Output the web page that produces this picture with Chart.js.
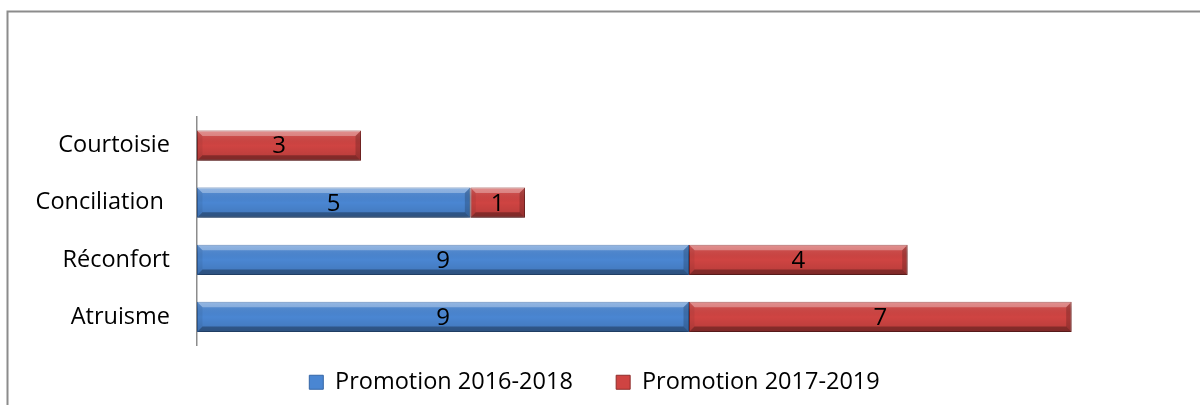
<!DOCTYPE html>
<html>
<head>
<meta charset="utf-8">
<script src="https://cdn.jsdelivr.net/npm/chart.js@4"></script>
<style>
  html, body { margin: 0; padding: 0; background: #fff; }
  #wrap { width: 1200px; height: 405px; }
</style>
</head>
<body>
<div id="wrap"><canvas id="chart"></canvas></div>
<script>
const categories = ['Courtoisie', 'Conciliation ', 'Réconfort', 'Atruisme'];
const promo2016 = [null, 5, 9, 9];
const promo2017 = [3, 1, 4, 7];
const seriesNames = ['Promotion 2016-2018', 'Promotion 2017-2019'];

const FONT = '"Open Sans", sans-serif';

// grey frame along the top and left edge
const frame = {
    id: 'frame',
    beforeDraw(chart) {
        const ctx = chart.ctx;
        ctx.save();
        ctx.fillStyle = '#fff';
        ctx.fillRect(0, 0, chart.width, chart.height);
        ctx.strokeStyle = '#8c8c8c';
        ctx.lineWidth = 2;
        ctx.beginPath();
        ctx.moveTo(7.5, chart.height);
        ctx.lineTo(7.5, 11.5);
        ctx.lineTo(chart.width, 11.5);
        ctx.stroke();
        ctx.restore();
    }
};

function poly(ctx, pts, fill) {
    ctx.fillStyle = fill;
    ctx.beginPath();
    ctx.moveTo(pts[0][0], pts[0][1]);
    for (let k = 1; k < pts.length; k++) ctx.lineTo(pts[k][0], pts[k][1]);
    ctx.closePath();
    ctx.fill();
}

// drop shadow under bars, then bevel shading and value labels on top
const bevel = {
    id: 'bevel',
    beforeDatasetsDraw(chart) {
        const ctx = chart.ctx;
        ctx.save();
        ctx.shadowColor = 'rgba(0,0,0,0.28)';
        ctx.shadowBlur = 6;
        ctx.shadowOffsetY = 4;
    },
    afterDatasetsDraw(chart) {
        const ctx = chart.ctx;
        ctx.restore();
        chart.data.datasets.forEach((ds, i) => {
            const meta = chart.getDatasetMeta(i);
            meta.data.forEach((bar, j) => {
                const v = ds.data[j];
                if (v == null) return;
                const p = bar.getProps(['x', 'y', 'base', 'height'], true);
                const l = Math.min(p.x, p.base) + 0.5, r = Math.max(p.x, p.base) - 0.5;
                const t = p.y - p.height / 2 + 0.5, btm = p.y + p.height / 2 - 0.5;
                const b = Math.min(5, (r - l) / 2);
                ctx.save();
                const g = ctx.createLinearGradient(0, t, 0, btm);
                g.addColorStop(0, 'rgba(255,255,255,0.15)');
                g.addColorStop(0.5, 'rgba(0,0,0,0)');
                g.addColorStop(1, 'rgba(0,0,0,0.12)');
                ctx.fillStyle = g;
                ctx.fillRect(l, t, r - l, btm - t);
                poly(ctx, [[l, t], [r, t], [r - b, t + b], [l + b, t + b]], 'rgba(255,255,255,0.3)');
                poly(ctx, [[l, btm], [r, btm], [r - b, btm - b], [l + b, btm - b]], 'rgba(0,0,0,0.3)');
                poly(ctx, [[r, t], [r, btm], [r - b, btm - b], [r - b, t + b]], 'rgba(0,0,0,0.18)');
                poly(ctx, [[l, t], [l, btm], [l + b, btm - b], [l + b, t + b]], 'rgba(0,0,0,0.06)');
                ctx.restore();

                ctx.save();
                ctx.fillStyle = '#000';
                ctx.font = '24px ' + FONT;
                ctx.textAlign = 'center';
                ctx.textBaseline = 'middle';
                ctx.fillText(String(v), (l + r) / 2, p.y + 1);
                ctx.restore();
            });
        });
    }
};

new Chart(document.getElementById('chart'), {
    type: 'bar',
    data: {
        labels: categories,
        datasets: [{
            label: seriesNames[0] + '   ',
            data: promo2016,
            backgroundColor: '#4A86D2',
            borderColor: '#3566A6',
            borderWidth: 1,
            borderSkipped: false
        }, {
            label: seriesNames[1],
            data: promo2017,
            backgroundColor: '#CF4442',
            borderColor: '#8E2C2B',
            borderWidth: 1,
            borderSkipped: false
        }]
    },
    options: {
        indexAxis: 'y',
        responsive: true,
        maintainAspectRatio: false,
        animation: false,
        datasets: {
            bar: { barPercentage: 0.53, categoryPercentage: 1 }
        },
        layout: {
            padding: { left: 8, top: 117, right: 19, bottom: 1 }
        },
        scales: {
            x: {
                stacked: true,
                display: false,
                min: 0,
                max: 18
            },
            y: {
                stacked: true,
                grid: { display: false, drawTicks: false },
                border: { display: true, color: '#8c8c8c', width: 1.5 },
                ticks: {
                    color: '#000',
                    padding: 27,
                    font: { family: FONT, size: 23.5 }
                },
                afterFit(scale) { scale.width = 189; }
            }
        },
        plugins: {
            legend: {
                position: 'bottom',
                labels: {
                    color: '#000',
                    boxWidth: 14,
                    boxHeight: 14,
                    padding: 25,
                    font: { family: FONT, size: 23.5 }
                }
            },
            tooltip: { enabled: false }
        }
    },
    plugins: [frame, bevel]
});
</script>
</body>
</html>
